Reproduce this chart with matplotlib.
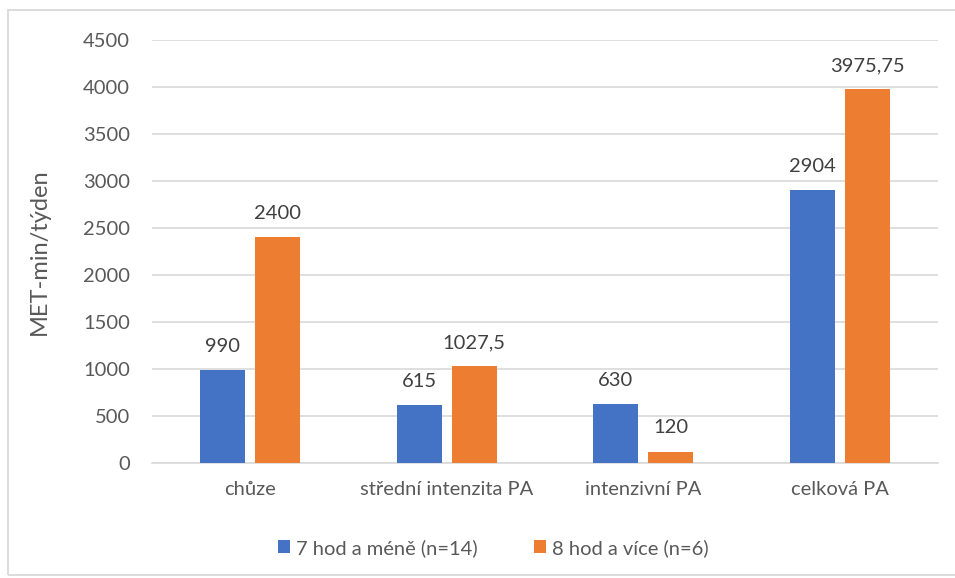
import numpy as np
import matplotlib
matplotlib.use('Agg')
import matplotlib.pyplot as plt
from matplotlib.patches import Rectangle

plt.rcParams['font.family'] = ['Lato', 'DejaVu Sans']

categories = ['chůze', 'střední intenzita PA', 'intenzivní PA', 'celková PA']
group_a = [990, 615, 630, 2904]
group_b = [2400, 1027.5, 120, 3975.75]
labels_a = ['990', '615', '630', '2904']
labels_b = ['2400', '1027,5', '120', '3975,75']
series_names = ['7 hod a méně (n=14)', '8 hod a více (n=6)']

blue = '#4472C4'
orange = '#ED7D31'
text_gray = '#595959'

fig = plt.figure(figsize=(9.55, 5.78), dpi=100)
ax = fig.add_axes([152/955, 1 - 463/578, (938-152)/955, (463-40)/578])

# outer chart frame
fig.patches.append(Rectangle((8/955, 3/578), 960/955, 565/578, transform=fig.transFigure,
                             fill=False, edgecolor='#D9D9D9', linewidth=1.3))

x = np.arange(len(categories))
w = 0.229
off = 0.14
bars_a = ax.bar(x - off, group_a, w, color=blue, label=series_names[0], zorder=3)
bars_b = ax.bar(x + off, group_b, w, color=orange, label=series_names[1], zorder=3)

for bars, labs in ((bars_a, labels_a), (bars_b, labels_b)):
    for b, t in zip(bars, labs):
        ax.annotate(t, (b.get_x() + b.get_width() / 2, b.get_height()),
                    xytext=(0, 11), textcoords='offset points', ha='center', va='bottom',
                    fontsize=14.5, color='#404040')

ax.set_xlim(-0.5, 3.5)
ax.set_ylim(0, 4500)
ax.set_yticks(np.arange(0, 4501, 500))
ax.set_xticks(x)
ax.set_xticklabels(categories)
ax.tick_params(axis='both', length=0, labelsize=14.5, labelcolor=text_gray)
ax.tick_params(axis='x', pad=13)
ax.tick_params(axis='y', pad=16)
ax.grid(axis='y', color='#D9D9D9', linewidth=1.2, zorder=0)
for s in ['top', 'right', 'left']:
    ax.spines[s].set_visible(False)
ax.spines['bottom'].set_color('#D9D9D9')
ax.spines['bottom'].set_linewidth(1.2)
ax.set_ylabel('MET-min/týden', fontsize=17, color=text_gray, labelpad=24)

fig.legend(loc='center', bbox_to_anchor=(493/955, 1 - 548/578), ncol=2, frameon=False,
           fontsize=14.5, labelcolor=text_gray, handlelength=0.6, handleheight=0.6,
           handletextpad=0.3, columnspacing=2.8)

fig.savefig('out.png', dpi=100)
